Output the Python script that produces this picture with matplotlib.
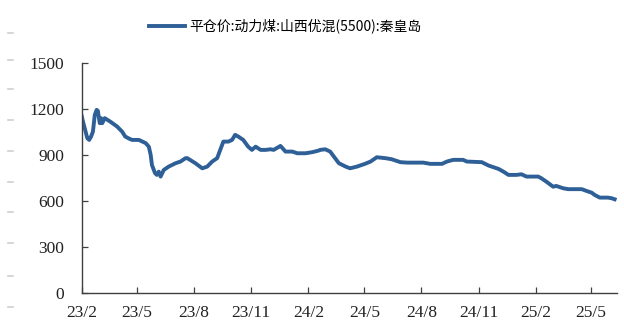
import matplotlib
matplotlib.use("Agg")
import matplotlib.pyplot as plt
import matplotlib.dates as mdates
from matplotlib.lines import Line2D
import pandas as pd

series_name = "平仓价:动力煤:山西优混(5500):秦皇岛"

dates = [
    "2023-02-01", "2023-02-03", "2023-02-10", "2023-02-13", "2023-02-16", "2023-02-19",
    "2023-02-22", "2023-02-25", "2023-02-27", "2023-03-02", "2023-03-04", "2023-03-06",
    "2023-03-10", "2023-03-19", "2023-03-30", "2023-04-07", "2023-04-12", "2023-04-18",
    "2023-04-23", "2023-05-04", "2023-05-15", "2023-05-20", "2023-05-23", "2023-05-25",
    "2023-05-30", "2023-06-02", "2023-06-05", "2023-06-08", "2023-06-13", "2023-06-21",
    "2023-07-02", "2023-07-10", "2023-07-18", "2023-07-21", "2023-08-03", "2023-08-14",
    "2023-08-22", "2023-08-30", "2023-09-07", "2023-09-12", "2023-09-17", "2023-09-25",
    "2023-10-01", "2023-10-06", "2023-10-11", "2023-10-19", "2023-10-27", "2023-11-02",
    "2023-11-08", "2023-11-16", "2023-11-24", "2023-12-02", "2023-12-07", "2023-12-18",
    "2023-12-26", "2024-01-06", "2024-01-14", "2024-01-27", "2024-02-07", "2024-02-17",
    "2024-02-20", "2024-02-28", "2024-03-07", "2024-03-13", "2024-03-21", "2024-04-01",
    "2024-04-08", "2024-04-19", "2024-05-02", "2024-05-11", "2024-05-21", "2024-06-04",
    "2024-06-14", "2024-06-28", "2024-07-09", "2024-08-04", "2024-08-15", "2024-09-03",
    "2024-09-11", "2024-09-21", "2024-10-07", "2024-10-13", "2024-11-06", "2024-11-17",
    "2024-12-03", "2024-12-11", "2024-12-19", "2025-01-01", "2025-01-09", "2025-01-17",
    "2025-02-05", "2025-02-10", "2025-02-18", "2025-03-01", "2025-03-06", "2025-03-17",
    "2025-03-25", "2025-04-16", "2025-04-24", "2025-05-02", "2025-05-07", "2025-05-15",
    "2025-05-28", "2025-06-03", "2025-06-08",
]
prices = [
    1150, 1115, 1007, 996, 1018, 1050,
    1159, 1192, 1185, 1105, 1138, 1105,
    1138, 1115, 1083, 1050, 1018, 1005,
    996, 996, 975, 952, 898, 833,
    779, 768, 789, 757, 800, 822,
    844, 855, 877, 877, 844, 811,
    822, 855, 877, 931, 985, 985,
    996, 1029, 1018, 996, 952, 931,
    952, 931, 931, 935, 931, 957,
    920, 920, 909, 909, 916, 926,
    931, 935, 920, 887, 844, 822,
    811, 822, 840, 855, 883, 877,
    870, 851, 848, 848, 840, 840,
    855, 866, 866, 855, 851, 829,
    807, 789, 768, 768, 772, 757,
    757, 746, 724, 691, 696, 681,
    675, 675, 663, 652, 637, 620,
    620, 616, 609,
]

tick_dates = ["2023-02-01", "2023-05-01", "2023-08-01", "2023-11-01", "2024-02-01",
              "2024-05-01", "2024-08-01", "2024-11-01", "2025-02-01", "2025-05-01"]
tick_labels = ["23/2", "23/5", "23/8", "23/11", "24/2", "24/5", "24/8", "24/11", "25/2", "25/5"]
y_ticks = [0, 300, 600, 900, 1200, 1500]

x = pd.to_datetime(dates)

fig = plt.figure(figsize=(6.24, 3.33), dpi=100)
ax = fig.add_axes([0.131, 0.121, 0.858, 0.691])

line_color = "#2e5f96"
ax.plot(x, prices, color=line_color, lw=2.8, solid_joinstyle="round", label=series_name)

ax.set_xlim(pd.Timestamp("2023-02-01"), pd.Timestamp("2025-06-12"))
ax.set_ylim(0, 1500)
ax.set_yticks(y_ticks)
ax.set_xticks(pd.to_datetime(tick_dates))
ax.set_xticklabels(tick_labels)

for s in ["top", "right"]:
    ax.spines[s].set_visible(False)
for s in ["left", "bottom"]:
    ax.spines[s].set_color("#404040")
    ax.spines[s].set_linewidth(1.0)

ax.tick_params(axis="both", direction="in", length=4.5, width=0.9, color="#404040",
               labelsize=12.5, labelcolor="#222222")
ax.tick_params(axis="y", pad=12.5)
ax.tick_params(axis="x", pad=9)
for lbl in ax.get_xticklabels() + ax.get_yticklabels():
    lbl.set_fontfamily("Liberation Serif")

fig.legend(handles=[Line2D([0], [0], color=line_color, lw=2.8)], labels=[series_name],
           loc="center", bbox_to_anchor=(0.457, 0.922), frameon=False,
           handlelength=2.6, handletextpad=0.25,
           prop={"family": ["Noto Sans CJK SC", "DejaVu Sans"], "size": 10})

# faint marks along the left edge
for yp in [33, 60, 89, 120, 151, 182, 212, 243, 276, 307]:
    fig.add_artist(Line2D([8 / 624, 13 / 624], [1 - yp / 333, 1 - yp / 333],
                          color="#d0d0d0", lw=1.2, transform=fig.transFigure))

fig.savefig("out.png", dpi=100)
